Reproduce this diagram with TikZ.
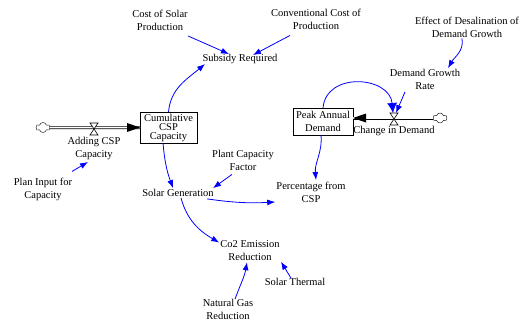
\documentclass[tikz,border=0pt]{standalone}
\usepackage{fontspec}
\setmainfont{Liberation Serif}
\usetikzlibrary{positioning,shapes.symbols,arrows.meta}

\begin{document}
\begin{tikzpicture}[x=1pt,y=1pt,
        every node/.style={font=\fontsize{10.5}{13}\selectfont,align=center,inner sep=1pt},
        level/.style={draw,rectangle,line width=0.8pt,outer sep=0pt},
        link/.style={blue,line width=0.8pt,-{Latex[length=8pt,width=6pt]}},
        biglink/.style={blue,line width=0.8pt,-{Latex[length=10pt,width=10pt]}},
        pipe/.style={double,double distance=1.6pt,line width=0.7pt},
        source/.style={cloud,cloud puffs=6,draw,fill=white,minimum width=14pt,minimum height=10pt,inner sep=0pt}]
   \useasboundingbox (0,0) rectangle (523,-322);

   % stocks
   \node (C) [level,minimum width=57pt,minimum height=31pt,font=\fontsize{10.5}{9}\selectfont] at (168.5,-127.5) {Cumulative\\CSP\\Capacity};
   \node (P) [level,minimum width=60pt,minimum height=27pt] at (323,-121.5) {Peak Annual\\Demand};

   % flows
   \node (S1) [source] at (43,-127.5) {};
   \coordinate (V1) at (94,-129);
   \draw[pipe] (S1.east) -- (C.west);
   \fill (C.west) -- ++(-13,4.5) -- ++(0,-9) -- cycle;
   \draw[fill=white,line width=0.6pt] (V1) +(-4,6) -- +(4,6) -- +(-4,-6) -- +(4,-6) -- cycle;
   \node (A) [below=7pt of V1] {Adding CSP\\Capacity};

   \node (S2) [source] at (440,-118) {};
   \coordinate (V2) at (394,-119);
   \draw[pipe] (S2.west) -- (P.east |- S2.west);
   \fill (P.east |- S2.west) -- ++(13,4.5) -- ++(0,-9) -- cycle;
   \draw[fill=white,line width=0.6pt] (V2) +(-4,6) -- +(4,6) -- +(-4,-6) -- +(4,-6) -- cycle;
   \node (D) [below=6pt of V2] {Change in Demand};

   % auxiliaries
   \node (CS) at (160,-20.5) {Cost of Solar\\Production};
   \node (CC) at (316,-19) {Conventional Cost of\\Production};
   \node (SR) at (240,-59) {Subsidy Required};
   \node (ED) at (467,-27) {Effect of Desalination of\\Demand Growth};
   \node (DG) at (425,-79.5) {Demand Growth\\Rate};
   \node (PI) at (43,-189) {Plan Input for\\Capacity};
   \node (PF) at (243,-160) {Plant Capacity\\Factor};
   \node (SG) at (178,-193) {Solar Generation};
   \node (PC) at (311,-192.5) {Percentage from\\CSP};
   \node (CO) at (250,-250.5) {Co2 Emission\\Reduction};
   \node (ST) at (295,-282) {Solar Thermal};
   \node (NG) at (228,-309.5) {Natural Gas\\Reduction};

   % links
   \draw[link] ([xshift=28pt,yshift=-4pt]CS.south) -- ([xshift=-11pt,yshift=-1pt]SR.north);
   \draw[link] ([xshift=-26pt,yshift=-5pt]CC.south) -- ([xshift=13pt,yshift=-2pt]SR.north);
   \draw[link] (C.north) to[out=85,in=220] ([xshift=-35pt,yshift=1pt]SR.south);
   \draw[link] ([xshift=-5.5pt]C.south) to[out=-85,in=110] ([xshift=-5pt]SG.north);
   \draw[link] ([xshift=-11pt,yshift=-3pt]PF.south) -- ([xshift=35pt]SG.north);
   \draw[link] ([xshift=29pt,yshift=-1pt]SG.south) to[out=-8,in=183] ([yshift=-9.5pt]PC.west);
   \draw[link] ([xshift=3pt]SG.south) to[out=-75,in=150] ([yshift=8pt]CO.west);
   \draw[link] ([xshift=-2pt]P.south) to[out=-85,in=95] ([xshift=5pt,yshift=1pt]PC.north);
   \draw[biglink] (P.north) to[out=85,in=95,looseness=1.35] ([xshift=-1pt,yshift=6pt]V2);
   \draw[link] ([xshift=-20pt,yshift=-1pt]DG.south) -- ([xshift=2pt,yshift=6pt]V2);
   \draw[link] ([xshift=-5pt]ED.south) to[out=-80,in=60] ([xshift=23pt]DG.north);
   \draw[link] ([xshift=7pt,yshift=-1pt]NG.north) to[out=70,in=-100] ([xshift=-3pt,yshift=-0.5pt]CO.south);
   \draw[link] ([xshift=-4pt,yshift=-1pt]ST.north) -- ([xshift=31pt,yshift=0pt]CO.south);
   \draw[link] ([xshift=29pt,yshift=5pt]PI.north) -- ([xshift=-6pt,yshift=-1pt]A.south);

\end{tikzpicture}
\end{document}
